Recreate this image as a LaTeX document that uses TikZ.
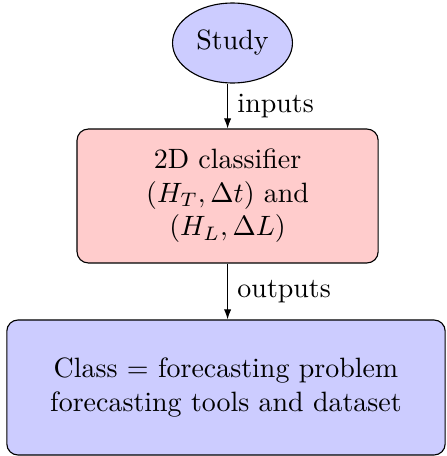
\documentclass[tikz,border=0pt]{standalone}
\usetikzlibrary{shapes.geometric,arrows.meta}
\begin{document}
\begin{tikzpicture}[x=0.3577pt,y=-0.3577pt,
  startnode/.style={ellipse,draw,fill=blue!20,inner sep=0pt,minimum width=42.9pt,minimum height=28.6pt},
  procbox/.style={rectangle,rounded corners=4pt,draw,fill=red!20,align=center,inner sep=0pt,minimum width=107.7pt,minimum height=47.9pt},
  outbox/.style={rectangle,rounded corners=4pt,draw,fill=blue!20,align=center,inner sep=0pt,minimum width=156.8pt,minimum height=48.3pt},
  flow/.style={-{Latex[length=3.6pt,width=2.6pt]}},
  elabel/.style={anchor=west}]
\useasboundingbox (0,0) rectangle (446,456);
\node[startnode] (study) at (232.5,43) {Study};
\node[procbox] (cls) at (227.6,196) {2D classifier\\ $(H_T,\Delta t)$ and\\ $(H_L,\Delta L)$};
\node[outbox] (out) at (226,387.5) {Class $=$ forecasting problem\\ forecasting tools and dataset};
\draw[flow] (cls.north |- study.south) -- node[elabel] {inputs} (cls.north);
\draw[flow] (cls.south) -- node[elabel] {outputs} (cls.south |- out.north);
\end{tikzpicture}
\end{document}
